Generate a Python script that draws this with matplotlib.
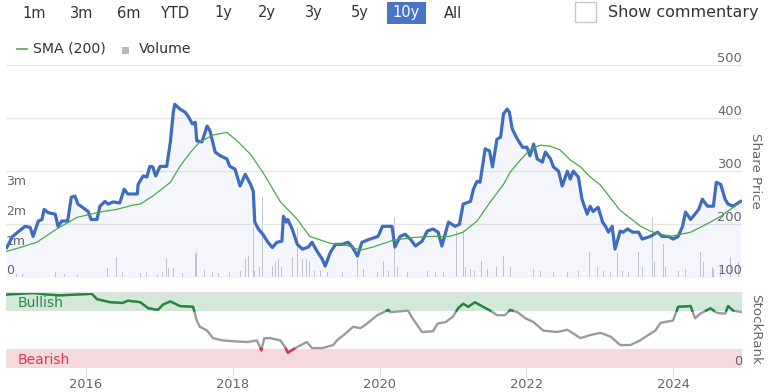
import numpy as np
import matplotlib.pyplot as plt
from matplotlib.patches import Rectangle
from matplotlib.lines import Line2D

plt.rcParams['font.family'] = ['DejaVu Sans']

# ---- data ----
price_t = [2014.92, 2015.00, 2015.07, 2015.17, 2015.24, 2015.28, 2015.35, 2015.40, 2015.43, 2015.48,
           2015.58, 2015.62, 2015.67, 2015.75, 2015.80, 2015.85, 2015.89, 2015.99, 2016.03, 2016.07,
           2016.15, 2016.19, 2016.26, 2016.30, 2016.37, 2016.46, 2016.52, 2016.57, 2016.70, 2016.71,
           2016.78, 2016.83, 2016.87, 2016.91, 2016.95, 2017.01, 2017.10, 2017.15, 2017.19, 2017.21,
           2017.28, 2017.35, 2017.39, 2017.45, 2017.49, 2017.51, 2017.58, 2017.65, 2017.69, 2017.76,
           2017.83, 2017.92, 2017.96, 2018.03, 2018.10, 2018.17, 2018.24, 2018.28, 2018.30, 2018.35,
           2018.41, 2018.48, 2018.54, 2018.60, 2018.67, 2018.69, 2018.73, 2018.75, 2018.81, 2018.88,
           2018.95, 2019.03, 2019.08, 2019.15, 2019.22, 2019.26, 2019.33, 2019.40, 2019.49, 2019.57,
           2019.63, 2019.70, 2019.76, 2019.87, 2019.98, 2020.04, 2020.10, 2020.17, 2020.21, 2020.28,
           2020.35, 2020.42, 2020.49, 2020.58, 2020.65, 2020.73, 2020.80, 2020.85, 2020.94, 2021.03,
           2021.09, 2021.14, 2021.24, 2021.28, 2021.33, 2021.37, 2021.44, 2021.50, 2021.54, 2021.60,
           2021.65, 2021.69, 2021.74, 2021.77, 2021.81, 2021.88, 2021.95, 2022.01, 2022.05, 2022.10,
           2022.15, 2022.22, 2022.26, 2022.33, 2022.37, 2022.44, 2022.49, 2022.56, 2022.60, 2022.64,
           2022.71, 2022.76, 2022.83, 2022.87, 2022.91, 2022.98, 2023.04, 2023.08, 2023.12, 2023.17,
           2023.21, 2023.28, 2023.32, 2023.38, 2023.45, 2023.53, 2023.58, 2023.69, 2023.79, 2023.85,
           2023.94, 2024.00, 2024.07, 2024.13, 2024.17, 2024.24, 2024.30, 2024.35, 2024.40, 2024.47,
           2024.55, 2024.59, 2024.65, 2024.71, 2024.75, 2024.82, 2024.92]
price = [156, 177, 185, 196, 194, 177, 206, 209, 228, 222,
         219, 196, 206, 206, 251, 253, 238, 228, 224, 209,
         209, 234, 243, 238, 242, 240, 266, 257, 257, 275,
         291, 289, 309, 308, 291, 309, 309, 355, 411, 426,
         417, 411, 404, 389, 392, 357, 355, 385, 376, 336,
         329, 323, 309, 304, 272, 294, 276, 262, 204, 191,
         181, 166, 156, 166, 168, 215, 204, 209, 191, 162,
         153, 157, 166, 149, 134, 121, 147, 162, 162, 166,
         157, 140, 166, 172, 177, 196, 196, 196, 157, 177,
         181, 172, 159, 168, 187, 191, 185, 159, 204, 196,
         200, 238, 243, 266, 281, 279, 342, 338, 308, 360,
         364, 408, 417, 411, 379, 360, 345, 345, 329, 351,
         323, 317, 336, 323, 308, 300, 272, 300, 285, 300,
         289, 247, 219, 234, 224, 232, 204, 196, 185, 196,
         153, 187, 185, 191, 185, 185, 172, 177, 185, 177,
         177, 172, 177, 196, 223, 209, 219, 228, 247, 234,
         234, 279, 275, 247, 238, 234, 243]

sma_t = [2014.92, 2015.10, 2015.33, 2015.60, 2015.88, 2016.19, 2016.42, 2016.64, 2016.74, 2016.91,
         2017.15, 2017.28, 2017.42, 2017.55, 2017.73, 2017.92, 2018.06, 2018.24, 2018.41, 2018.65,
         2018.88, 2019.05, 2019.33, 2019.56, 2019.74, 2019.91, 2020.19, 2020.46, 2020.69, 2020.96,
         2021.14, 2021.33, 2021.51, 2021.69, 2021.78, 2021.92, 2022.05, 2022.19, 2022.33, 2022.46,
         2022.60, 2022.74, 2022.87, 2023.01, 2023.15, 2023.28, 2023.42, 2023.56, 2023.69, 2023.83,
         2023.96, 2024.10, 2024.24, 2024.37, 2024.51, 2024.65, 2024.78, 2024.92]
sma = [149, 156, 166, 191, 213, 223, 228, 236, 238, 253,
       279, 309, 335, 355, 368, 373, 357, 332, 298, 242,
       209, 177, 164, 160, 151, 157, 170, 175, 177, 177,
       185, 206, 242, 275, 298, 321, 340, 349, 347, 340,
       321, 308, 289, 274, 249, 226, 211, 196, 187, 181,
       177, 181, 185, 194, 204, 215, 228, 241]

# volume in millions
vol_t = [2015.05, 2015.14, 2015.58, 2015.71, 2015.88, 2016.29, 2016.42, 2016.50, 2016.64, 2016.74,
         2016.83, 2016.90, 2016.97, 2017.04, 2017.10, 2017.12, 2017.19, 2017.24, 2017.31, 2017.49,
         2017.51, 2017.54, 2017.62, 2017.69, 2017.73, 2017.80, 2017.96, 2018.10, 2018.17, 2018.21,
         2018.28, 2018.30, 2018.37, 2018.40, 2018.44, 2018.48, 2018.54, 2018.58, 2018.62, 2018.67,
         2018.74, 2018.81, 2018.88, 2018.95, 2019.01, 2019.05, 2019.12, 2019.19, 2019.29, 2019.42,
         2019.49, 2019.70, 2019.78, 2019.87, 2019.97, 2020.05, 2020.12, 2020.20, 2020.24, 2020.32,
         2020.38, 2020.66, 2020.76, 2020.87, 2021.05, 2021.07, 2021.14, 2021.17, 2021.24, 2021.30,
         2021.39, 2021.47, 2021.52, 2021.56, 2021.60, 2021.69, 2021.78, 2021.82, 2022.10, 2022.19,
         2022.37, 2022.56, 2022.71, 2022.80, 2022.86, 2022.91, 2022.97, 2023.05, 2023.15, 2023.24,
         2023.31, 2023.39, 2023.53, 2023.58, 2023.72, 2023.75, 2023.87, 2023.90, 2024.04, 2024.07,
         2024.17, 2024.30, 2024.37, 2024.41, 2024.54, 2024.55, 2024.65, 2024.75, 2024.78, 2024.89]
vol_m = [0.12, 0.12, 0.17, 0.12, 0.12, 0.32, 0.70, 0.17, 0.15, 0.15,
         0.17, 0.17, 0.12, 0.17, 0.65, 0.32, 0.30, 0.17, 0.14, 0.79,
         0.84, 0.45, 0.25, 0.40, 0.17, 0.14, 0.17, 0.22, 0.63, 0.73,
         1.68, 0.22, 0.33, 2.72, 0.33, 0.50, 0.39, 0.50, 0.63, 0.33,
         0.33, 0.67, 1.68, 0.62, 0.62, 0.56, 0.22, 0.22, 0.17, 0.28,
         0.17, 0.62, 0.28, 0.17, 0.17, 0.56, 0.22, 2.04, 0.33, 0.17,
         0.17, 0.22, 0.17, 0.17, 1.57, 1.68, 1.58, 0.33, 0.28, 0.22,
         0.56, 0.28, 0.56, 1.60, 0.33, 0.73, 0.33, 0.22, 0.28, 0.22,
         0.17, 0.17, 0.22, 0.28, 0.86, 0.56, 0.33, 0.22, 0.17, 0.81,
         0.22, 0.17, 0.84, 0.33, 2.02, 0.50, 1.12, 0.33, 0.33, 0.22,
         0.28, 0.62, 0.84, 0.50, 0.33, 0.28, 0.33, 1.29, 0.67, 0.50]

rank_t = [2014.91, 2015.10, 2015.28, 2015.47, 2015.65, 2015.88, 2016.08, 2016.15, 2016.33, 2016.50,
          2016.57, 2016.74, 2016.85, 2016.98, 2017.05, 2017.15, 2017.28, 2017.46, 2017.51, 2017.55,
          2017.65, 2017.73, 2017.87, 2018.00, 2018.20, 2018.33, 2018.39, 2018.43, 2018.51, 2018.65,
          2018.71, 2018.75, 2018.80, 2018.87, 2019.01, 2019.08, 2019.22, 2019.37, 2019.42, 2019.56,
          2019.64, 2019.74, 2019.83, 2019.97, 2020.12, 2020.15, 2020.39, 2020.45, 2020.58, 2020.73,
          2020.79, 2020.90, 2021.00, 2021.07, 2021.14, 2021.21, 2021.30, 2021.41, 2021.51, 2021.60,
          2021.71, 2021.78, 2021.88, 2021.99, 2022.10, 2022.23, 2022.42, 2022.56, 2022.74, 2022.87,
          2023.01, 2023.15, 2023.28, 2023.42, 2023.55, 2023.66, 2023.76, 2023.83, 2024.00, 2024.07,
          2024.24, 2024.30, 2024.37, 2024.51, 2024.60, 2024.71, 2024.75, 2024.82, 2024.94]
rank = [96, 97, 98, 96, 95, 96, 97, 90, 86, 85,
        88, 86, 78, 76, 83, 87, 81, 80, 62, 54,
        49, 39, 36, 35, 34, 36, 23, 39, 39, 36,
        28, 20, 23, 27, 34, 26, 26, 30, 36, 47,
        54, 52, 58, 69, 76, 73, 75, 65, 47, 48,
        58, 60, 67, 78, 84, 80, 86, 80, 75, 69,
        69, 76, 73, 65, 60, 49, 47, 50, 39, 43,
        46, 41, 30, 30, 36, 43, 49, 59, 62, 80,
        81, 65, 71, 78, 72, 71, 81, 75, 73]

year_ticks = [2016, 2018, 2020, 2022, 2024]
vol_ticks = [0, 1, 2, 3]
vol_labels = ['0', '1m', '2m', '3m']
price_ticks = [100, 200, 300, 400, 500]
buttons = ['1m', '3m', '6m', 'YTD', '1y', '2y', '3y', '5y', '10y', 'All']
active_button = '10y'

# ---- layout helpers (pixels -> figure fraction) ----
W, H = 771, 392
def fx(px):
    return px / W
def fy(py):
    return 1 - py / H

TXT = '#666666'
DARK = '#333333'
xlim = (2014.91, 2024.94)


def add_crossings(t, v, levels):
    # insert the points where the line crosses each band edge, so colour changes exactly there
    t_out, v_out = [t[0]], [v[0]]
    for i in range(1, len(t)):
        t0, t1, v0, v1 = t[i - 1], t[i], v[i - 1], v[i]
        cuts = []
        for lv in levels:
            if (v0 - lv) * (v1 - lv) < 0:
                cuts.append(t0 + (lv - v0) / (v1 - v0) * (t1 - t0))
        for c in sorted(cuts):
            t_out.append(c)
            v_out.append(v0 + (c - t0) / (t1 - t0) * (v1 - v0))
        t_out.append(t1)
        v_out.append(v1)
    return np.array(t_out), np.array(v_out)


fig = plt.figure(figsize=(W / 100, H / 100), dpi=100)

# main panel: volume host axes below, price twin on top
ax_vol = fig.add_axes([fx(6), fy(277.3), (742 - 6) / W, (277.3 - 65) / H])
ax = ax_vol.twinx()

ax_vol.bar(vol_t, vol_m, width=0.012, color='#c6c7d0', linewidth=0)
ax_vol.set_ylim(0, (277.3 - 65) / 29.7)
ax_vol.set_yticks(vol_ticks)
ax_vol.set_yticklabels(vol_labels)
ax_vol.tick_params(axis='y', length=0, pad=0, labelcolor=TXT, labelsize=9)
for lbl in ax_vol.get_yticklabels():
    lbl.set_horizontalalignment('left')
    lbl.set_verticalalignment('bottom')

ax.fill_between(price_t, price, 100, color='#4a72c0', alpha=0.06, linewidth=0)
ax.plot(price_t, price, color='#3e6dbf', lw=2.3, solid_joinstyle='round', zorder=4)
ax.plot(sma_t, sma, color='#4aa84a', lw=0.9, zorder=5)
ax.set_ylim(100, 500)
ax.set_yticks(price_ticks)
ax.grid(axis='y', color='#e6e6e6', lw=1)
ax.set_axisbelow(True)
ax.tick_params(axis='y', length=0, pad=0, labelcolor=TXT, labelsize=9.4)
for lbl in ax.get_yticklabels():
    lbl.set_horizontalalignment('right')
    lbl.set_verticalalignment('bottom')

for a in (ax, ax_vol):
    a.set_xlim(*xlim)
    a.tick_params(axis='x', bottom=False, labelbottom=False)
    for s in a.spines.values():
        s.set_visible(False)
ax_vol.patch.set_visible(False)

# StockRank panel
axr = fig.add_axes([fx(6), fy(368), (742 - 6) / W, (368 - 291.5) / H])
axr.axhspan(75, 100, color='#d4e8da', lw=0)
axr.axhspan(0, 25, color='#f5d9dc', lw=0)
rt, rv = add_crossings(rank_t, rank, [25, 75])
axr.plot(rt, rv, color='#9b9b9b', lw=1.7, solid_joinstyle='round')
axr.plot(rt, np.ma.masked_where(rv < 75 - 1e-9, rv), color='#1f8a3c', lw=1.7)
axr.plot(rt, np.ma.masked_where(rv > 25 + 1e-9, rv), color='#d8344f', lw=1.7)
axr.set_xlim(*xlim)
axr.set_ylim(0, 100)
axr.set_xticks(year_ticks)
axr.tick_params(axis='x', length=6.5, color='#d8dde8', labelcolor=TXT, labelsize=9.4, pad=1)
axr.yaxis.tick_right()
axr.set_yticks([0])
axr.tick_params(axis='y', length=0, pad=0, labelcolor=TXT, labelsize=9.4)
for lbl in axr.get_yticklabels():
    lbl.set_horizontalalignment('right')
    lbl.set_verticalalignment('bottom')
for name, s in axr.spines.items():
    s.set_visible(name == 'top')
axr.spines['top'].set_color('#e0e0e0')

axr.text(0.016, 0.85, 'Bullish', transform=axr.transAxes, color='#2d8a3e',
         fontsize=10, ha='left', va='center')
axr.text(0.016, 0.10, 'Bearish', transform=axr.transAxes, color='#d93a55',
         fontsize=10, ha='left', va='center')

# axis titles
fig.text(fx(756), fy(171), 'Share Price', rotation=-90, ha='center', va='center',
         color=TXT, fontsize=9.6)
fig.text(fx(756), fy(329), 'StockRank', rotation=-90, ha='center', va='center',
         color=TXT, fontsize=9.6)

# range buttons
button_x = [34.5, 82, 129, 175, 223, 267, 314, 360, 406, 453]
for label, cx in zip(buttons, button_x):
    col = DARK
    if label == active_button:
        fig.patches.append(Rectangle((fx(387), fy(24)), 39 / W, 22.3 / H,
                                     transform=fig.transFigure, color='#4a74c4', lw=0))
        col = 'white'
    fig.text(fx(cx), fy(13), label, ha='center', va='center', color=col, fontsize=10.5)

# commentary checkbox
fig.patches.append(Rectangle((fx(575), fy(21.5)), 21 / W, 19.5 / H, transform=fig.transFigure,
                             facecolor='white', edgecolor='#c8c8c8', lw=1))
fig.text(fx(608), fy(13), 'Show commentary', ha='left', va='center', color=DARK, fontsize=11.5)

# legend
fig.lines.append(Line2D([fx(17), fx(27)], [fy(49), fy(49)], transform=fig.transFigure,
                        color='#4aa84a', lw=1.2))
fig.text(fx(33), fy(49), 'SMA (200)', ha='left', va='center', color=DARK, fontsize=10.2)
fig.patches.append(Rectangle((fx(122), fy(54)), 7 / W, 7 / H, transform=fig.transFigure,
                             color='#b9b9c0', lw=0))
fig.text(fx(139), fy(49), 'Volume', ha='left', va='center', color=DARK, fontsize=10.2)

fig.savefig('out.png', dpi=100)
